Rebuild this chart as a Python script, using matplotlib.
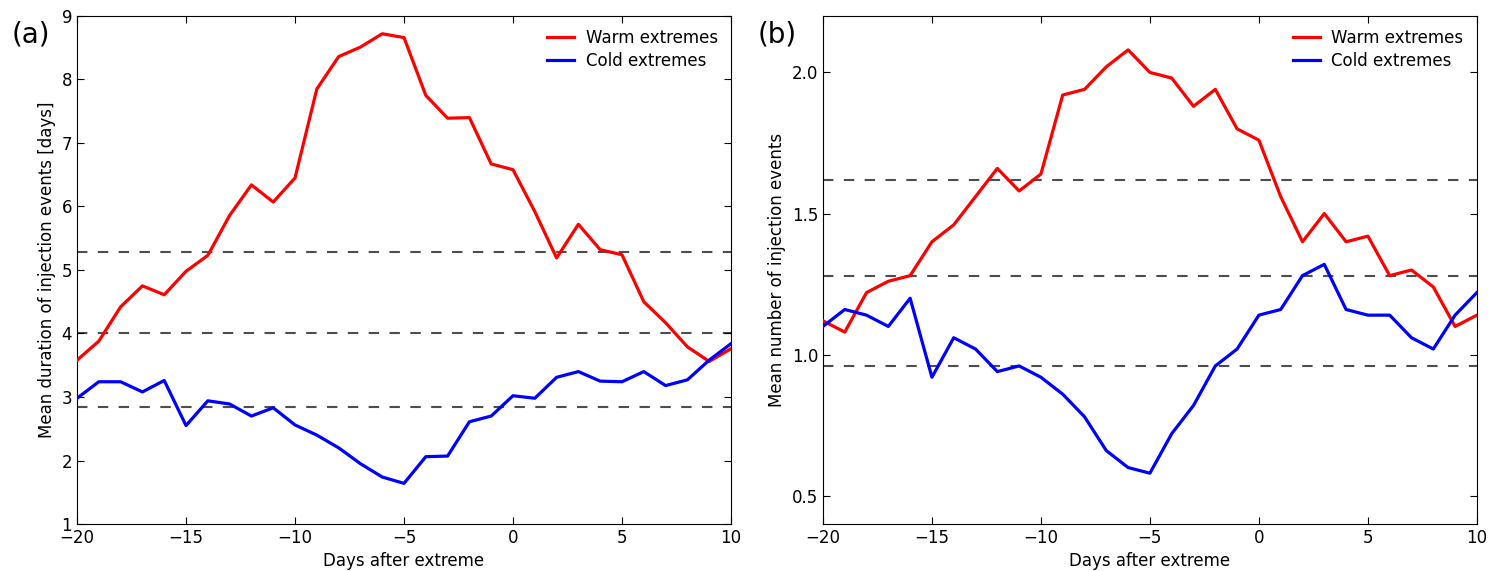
import numpy as np
import matplotlib
matplotlib.use('Agg')
import matplotlib.pyplot as plt

# days relative to extreme
days = np.arange(-20, 11)

# panel (a): mean duration [days]
dur_warm = [3.58, 3.88, 4.42, 4.75, 4.61, 4.98, 5.23, 5.86, 6.34, 6.07, 6.45,
            7.85, 8.36, 8.51, 8.72, 8.66, 7.75, 7.39, 7.40, 6.67, 6.58,
            5.92, 5.19, 5.72, 5.32, 5.24, 4.50, 4.17, 3.79, 3.56, 3.76]
dur_cold = [2.98, 3.24, 3.24, 3.08, 3.26, 2.55, 2.94, 2.89, 2.70, 2.83, 2.56,
            2.40, 2.20, 1.95, 1.74, 1.64, 2.06, 2.07, 2.61, 2.70, 3.02,
            2.98, 3.31, 3.40, 3.25, 3.24, 3.40, 3.18, 3.27, 3.58, 3.84]
dur_ref = [5.28, 4.0, 2.85]

# panel (b): mean number of events
num_warm = [1.12, 1.08, 1.22, 1.26, 1.28, 1.40, 1.46, 1.56, 1.66, 1.58, 1.64,
            1.92, 1.94, 2.02, 2.08, 2.00, 1.98, 1.88, 1.94, 1.80, 1.76,
            1.56, 1.40, 1.50, 1.40, 1.42, 1.28, 1.30, 1.24, 1.10, 1.14]
num_cold = [1.10, 1.16, 1.14, 1.10, 1.20, 0.92, 1.06, 1.02, 0.94, 0.96, 0.92,
            0.86, 0.78, 0.66, 0.60, 0.58, 0.72, 0.82, 0.96, 1.02, 1.14,
            1.16, 1.28, 1.32, 1.16, 1.14, 1.14, 1.06, 1.02, 1.14, 1.22]
num_ref = [1.62, 1.28, 0.96]

plt.rcParams['font.family'] = ['DejaVu Sans']
fig = plt.figure(figsize=(14.93, 5.71), dpi=100)
ax1 = fig.add_axes([0.0516, 0.0823, 0.438, 0.8897])
ax2 = fig.add_axes([0.5512, 0.0823, 0.438, 0.8897])


def panel(ax, warm, cold, refs, ylim, yticks, ylabel, tag):
    for r in refs:
        ax.axhline(r, color='0.3', lw=1.5, ls=(0, (5, 5)), zorder=1)
    ax.plot(days, warm, color='red', lw=2.3, label='Warm extremes', zorder=3)
    ax.plot(days, cold, color='blue', lw=2.3, label='Cold extremes', zorder=3)
    ax.set_xlim(-20, 10)
    ax.set_ylim(*ylim)
    ax.set_xticks([-20, -15, -10, -5, 0, 5, 10])
    ax.set_yticks(yticks)
    ax.tick_params(direction='in', top=True, right=True, length=5, labelsize=12)
    ax.set_xlabel('Days after extreme', fontsize=12, labelpad=4)
    ax.set_ylabel(ylabel, fontsize=12)
    ax.legend(loc='upper right', frameon=False, fontsize=12, handlelength=1.6,
              handletextpad=0.7, borderaxespad=0.4, labelspacing=0.3)
    fig.text(ax.get_position().x0 - 0.044, 0.925, tag, fontsize=20)


panel(ax1, dur_warm, dur_cold, dur_ref, (1, 9), range(1, 10),
      'Mean duration of injection events [days]', '(a)')
panel(ax2, num_warm, num_cold, num_ref, (0.4, 2.2), [0.5, 1.0, 1.5, 2.0],
      'Mean number of injection events', '(b)')

fig.savefig('out.png', dpi=100)
